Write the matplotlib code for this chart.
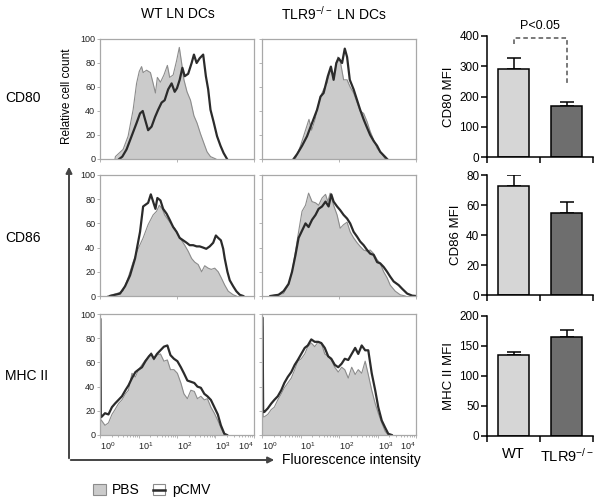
import matplotlib
matplotlib.use("Agg")
import matplotlib.pyplot as plt
import numpy as np
from matplotlib.patches import FancyArrowPatch, Rectangle
from matplotlib.lines import Line2D

plt.rcParams['font.family'] = ['Liberation Sans', 'DejaVu Sans']
plt.rcParams['mathtext.fontset'] = 'custom'
plt.rcParams['mathtext.rm'] = 'Liberation Sans'
plt.rcParams['mathtext.it'] = 'Liberation Sans:italic'

# ---- histogram data (x = log10 fluorescence, y = relative cell count) ----
cd80_wt_pbs_x = [0.39, 0.40, 0.60, 0.73, 0.86, 0.95, 1.02, 1.08, 1.12, 1.21, 1.31, 1.38, 1.44, 1.49, 1.57, 1.66,
                 1.75, 1.81, 1.90, 1.99, 2.06, 2.12, 2.18, 2.26, 2.35, 2.44, 2.52, 2.61, 2.70, 2.78, 2.87, 3.01]
cd80_wt_pbs_y = [0, 2, 8, 19, 41, 63, 73, 77, 72, 74, 72, 63, 55, 68, 64, 70,
                 78, 68, 70, 82, 93, 80, 66, 56, 49, 36, 30, 21, 13, 6, 2, 0]
cd80_wt_cmv_x = [0.50, 0.58, 0.69, 0.82, 0.95, 1.04, 1.11, 1.17, 1.25, 1.34, 1.43, 1.51, 1.60, 1.68, 1.77, 1.86, 1.94,
                 2.00, 2.07, 2.14, 2.20, 2.29, 2.38, 2.44, 2.51, 2.59, 2.68, 2.75, 2.81, 2.87, 2.95, 3.04, 3.13,
                 3.21, 3.30]
cd80_wt_cmv_y = [0, 2, 8, 19, 30, 38, 40, 33, 24, 27, 35, 41, 47, 49, 58, 63, 56,
                 59, 66, 76, 69, 71, 80, 87, 80, 84, 87, 69, 58, 41, 31, 19, 11,
                 5, 0]

cd80_ko_pbs_x = [0.87, 1.00, 1.13, 1.22, 1.29, 1.38, 1.43, 1.52, 1.60, 1.69, 1.77, 1.86, 1.97, 2.03, 2.12, 2.21,
                 2.29, 2.38, 2.47, 2.55, 2.64, 2.73, 2.81, 2.90, 2.99, 3.12, 3.20]
cd80_ko_pbs_y = [0, 11, 24, 33, 24, 33, 41, 52, 58, 63, 74, 69, 85, 82, 66, 66,
                 60, 55, 47, 40, 38, 31, 23, 16, 9, 4, 0]
cd80_ko_cmv_x = [0.82, 0.91, 1.04, 1.17, 1.30, 1.43, 1.52, 1.60, 1.71, 1.79, 1.86, 1.93, 1.99, 2.08, 2.15, 2.21,
                 2.28, 2.38, 2.47, 2.55, 2.64, 2.73, 2.81, 2.90, 2.99, 3.07, 3.16, 3.25]
cd80_ko_cmv_y = [0, 4, 11, 19, 30, 41, 52, 55, 69, 77, 66, 80, 84, 80, 92, 85,
                 66, 58, 49, 41, 33, 26, 20, 15, 11, 6, 3, 0]

cd86_wt_pbs_x = [0.20, 0.43, 0.60, 0.73, 0.86, 0.99, 1.12, 1.25, 1.38, 1.47, 1.54, 1.62, 1.68, 1.77, 1.86, 1.94, 2.03,
                 2.12, 2.20, 2.29, 2.38, 2.46, 2.55, 2.64, 2.72, 2.81, 2.89, 2.98, 3.07, 3.15, 3.24, 3.33,
                 3.46, 3.54]
cd86_wt_pbs_y = [0, 2, 4, 15, 28, 39, 48, 59, 67, 70, 75, 72, 67, 63, 59, 56, 50,
                 46, 42, 37, 31, 28, 26, 20, 25, 23, 22, 23, 20, 15, 9, 4,
                 1, 0]
cd86_wt_cmv_x = [0.26, 0.52, 0.65, 0.78, 0.91, 1.04, 1.12, 1.25, 1.32, 1.38, 1.44, 1.49, 1.57, 1.64, 1.73, 1.81,
                 1.90, 1.99, 2.07, 2.16, 2.25, 2.33, 2.42, 2.51, 2.59, 2.68, 2.76, 2.85, 2.94, 3.01, 3.07, 3.14,
                 3.20, 3.24, 3.31, 3.37, 3.46, 3.54, 3.63, 3.72]
cd86_wt_cmv_y = [0, 2, 8, 17, 31, 53, 74, 77, 84, 78, 72, 81, 79, 72, 68, 63,
                 57, 53, 48, 46, 44, 42, 42, 41, 41, 40, 39, 41, 44, 50, 48, 46,
                 39, 31, 20, 13, 8, 4, 1, 0]

cd86_ko_pbs_x = [0.20, 0.39, 0.56, 0.69, 0.78, 0.87, 0.95, 1.04, 1.13, 1.21, 1.30, 1.39, 1.47, 1.56, 1.65, 1.71, 1.77,
                 1.86, 1.95, 2.03, 2.12, 2.21, 2.29, 2.38, 2.47, 2.55, 2.64, 2.73, 2.81, 2.90, 2.99, 3.07,
                 3.16, 3.25, 3.33, 3.46, 3.59, 3.72]
cd86_ko_pbs_y = [0, 1, 2, 9, 20, 37, 53, 70, 75, 85, 78, 77, 75, 81, 84, 78, 85,
                 75, 67, 56, 59, 61, 53, 48, 44, 41, 38, 37, 38, 35, 30, 27,
                 20, 15, 9, 4, 1, 0]
cd86_ko_cmv_x = [0.22, 0.43, 0.56, 0.69, 0.78, 0.87, 0.95, 1.04, 1.13, 1.21, 1.30, 1.39, 1.47, 1.56, 1.65, 1.73,
                 1.80, 1.86, 1.95, 2.03, 2.12, 2.21, 2.29, 2.38, 2.47, 2.55, 2.64, 2.73, 2.81, 2.90, 2.99, 3.07,
                 3.16, 3.25, 3.33, 3.42, 3.55, 3.64, 3.77, 3.90, 4.00]
cd86_ko_cmv_y = [0, 1, 4, 10, 20, 34, 48, 54, 60, 57, 63, 67, 72, 74, 78, 74,
                 84, 78, 74, 71, 67, 64, 60, 53, 49, 45, 42, 38, 35, 34, 28, 27,
                 24, 20, 16, 12, 9, 6, 2, 0.3, 0]

mhc_wt_pbs_x = [0.00, 0.01, 0.02, 0.04, 0.13, 0.22, 0.31, 0.39, 0.48, 0.57, 0.66, 0.74, 0.83, 0.92, 1.00, 1.09, 1.18,
                1.27, 1.33, 1.40, 1.48, 1.57, 1.66, 1.75, 1.83, 1.92, 2.01, 2.10, 2.18, 2.27, 2.36, 2.45, 2.53,
                2.62, 2.71, 2.79, 2.88, 2.97, 3.06, 3.14, 3.23]
mhc_wt_pbs_y = [92, 92, 12, 12, 8, 10, 17, 21, 26, 29, 34, 37, 51, 48, 54, 58, 62,
                65, 68, 62, 66, 67, 61, 62, 54, 54, 51, 43, 34, 30, 37, 36, 30,
                32, 29, 30, 23, 18, 12, 6, 0]
mhc_wt_cmv_x = [0.00, 0.01, 0.02, 0.04, 0.13, 0.22, 0.31, 0.39, 0.48, 0.57, 0.66, 0.74, 0.83, 0.92, 1.00, 1.09, 1.18,
                1.27, 1.33, 1.40, 1.48, 1.57, 1.66, 1.75, 1.83, 1.92, 2.01, 2.10, 2.18, 2.27, 2.36, 2.45, 2.53,
                2.62, 2.71, 2.79, 2.88, 2.97, 3.06, 3.14, 3.23, 3.30]
mhc_wt_cmv_y = [96, 96, 15, 15, 18, 17, 23, 26, 29, 32, 37, 41, 47, 52, 54, 56, 61,
                65, 67, 63, 67, 70, 73, 74, 66, 63, 61, 56, 51, 45, 44, 43, 40,
                39, 34, 32, 29, 23, 17, 8, 1, 0]

mhc_ko_pbs_x = [0.00, 0.015, 0.03, 0.06, 0.15, 0.24, 0.32, 0.41, 0.50, 0.58, 0.67, 0.76, 0.85, 0.93, 1.02, 1.11, 1.19,
                1.28, 1.37, 1.46, 1.54, 1.63, 1.72, 1.80, 1.89, 1.98, 2.07, 2.15, 2.24, 2.33, 2.42, 2.50, 2.59,
                2.68, 2.76, 2.85, 2.94, 3.02, 3.11, 3.20, 3.28]
mhc_ko_pbs_y = [90, 90, 15, 15, 17, 21, 23, 29, 34, 39, 43, 47, 54, 61, 63, 67, 73,
                76, 73, 77, 76, 67, 65, 62, 56, 52, 56, 54, 47, 56, 50, 54, 51,
                61, 50, 37, 26, 18, 10, 3, 0]
mhc_ko_cmv_x = [0.00, 0.015, 0.03, 0.06, 0.15, 0.24, 0.32, 0.41, 0.50, 0.58, 0.67, 0.76, 0.85, 0.93, 1.02, 1.11, 1.19,
                1.28, 1.37, 1.46, 1.54, 1.63, 1.72, 1.80, 1.89, 1.98, 2.07, 2.15, 2.24, 2.33, 2.42, 2.50, 2.59,
                2.68, 2.76, 2.85, 2.94, 3.02, 3.11, 3.20, 3.28, 3.37]
mhc_ko_cmv_y = [97, 97, 19, 19, 22, 26, 29, 32, 37, 43, 48, 52, 58, 62, 67, 72, 74,
                79, 77, 77, 76, 72, 65, 63, 58, 56, 59, 63, 62, 67, 72, 67, 74,
                70, 70, 51, 37, 23, 12, 6, 1, 0]

# ---- bar data (MFI, mean + SEM) ----
groups = ['WT', 'TLR9$^{-/-}$']
cd80_mfi = [290, 168]
cd80_sem = [36, 15]
cd86_mfi = [73, 55]
cd86_sem = [7, 7]
mhc_mfi = [135, 165]
mhc_sem = [5, 11]

markers = ['CD80', 'CD86', 'MHC II']
columns = ['WT LN DCs', 'TLR9$^{-/-}$ LN DCs']

W, H = 601, 503
fig = plt.figure(figsize=(W / 100, H / 100), dpi=100)


def rect(x0, y0, x1, y1):
    return [x0 / W, 1 - y1 / H, (x1 - x0) / W, (y1 - y0) / H]


def fxy(x, y):
    return (x / W, 1 - y / H)


hist_cols = [(100, 254), (262, 416)]
hist_rows = [(39, 159), (175, 296), (314, 435)]
hist_data = [
    [(cd80_wt_pbs_x, cd80_wt_pbs_y, cd80_wt_cmv_x, cd80_wt_cmv_y),
     (cd80_ko_pbs_x, cd80_ko_pbs_y, cd80_ko_cmv_x, cd80_ko_cmv_y)],
    [(cd86_wt_pbs_x, cd86_wt_pbs_y, cd86_wt_cmv_x, cd86_wt_cmv_y),
     (cd86_ko_pbs_x, cd86_ko_pbs_y, cd86_ko_cmv_x, cd86_ko_cmv_y)],
    [(mhc_wt_pbs_x, mhc_wt_pbs_y, mhc_wt_cmv_x, mhc_wt_cmv_y),
     (mhc_ko_pbs_x, mhc_ko_pbs_y, mhc_ko_cmv_x, mhc_ko_cmv_y)],
]

fill_c = '#cbcbcb'
pbs_edge = '#8c8c8c'
cmv_c = '#2b2b2b'
frame_c = '#a8a8a8'

for r, (y0, y1) in enumerate(hist_rows):
    for c, (x0, x1) in enumerate(hist_cols):
        ax = fig.add_axes(rect(x0, y0, x1, y1))
        px, py, cx, cy = hist_data[r][c]
        px = 10 ** np.array(px)
        cx = 10 ** np.array(cx)
        ax.fill_between(px, py, color=fill_c, linewidth=0)
        ax.plot(px, py, color=pbs_edge, lw=0.8)
        ax.plot(cx, cy, color=cmv_c, lw=1.6)
        ax.set_xscale('log')
        ax.set_xlim(1, 1e4)
        ax.set_ylim(0, 100)
        ax.set_yticks([0, 20, 40, 60, 80, 100])
        for s in ax.spines.values():
            s.set_color(frame_c)
            s.set_linewidth(0.9)
        ax.tick_params(axis='both', which='both', color=frame_c, length=2, width=0.6, pad=1.5)
        ax.tick_params(axis='x', which='minor', length=1.5)
        if c == 0:
            ax.tick_params(axis='y', labelsize=6.5, labelcolor='#222222')
        else:
            ax.set_yticklabels([])
        if r == 2:
            ax.set_xticks([1, 10, 100, 1000, 10000])
            ax.tick_params(axis='x', labelsize=6.5, labelcolor='#222222', pad=2)
            fig.canvas.draw()
            labs = ax.get_xticklabels()
            for i, t in enumerate(labs):
                t.set_ha('right' if i == len(labs) - 1 else 'left')
        else:
            ax.tick_params(axis='x', which='both', labelbottom=False)

# ---- bar charts ----
bar_x = (487, 593)
bar_rows = [(36, 157), (175, 295), (316, 436)]
bar_vals = [(cd80_mfi, cd80_sem, 400, 100, 'CD80 MFI'),
            (cd86_mfi, cd86_sem, 80, 20, 'CD86 MFI'),
            (mhc_mfi, mhc_sem, 200, 50, 'MHC II MFI')]
bar_colors = ['#d6d6d6', '#6e6e6e']

for r, (y0, y1) in enumerate(bar_rows):
    vals, errs, ymax, step, lab = bar_vals[r]
    ax = fig.add_axes(rect(bar_x[0], y0, bar_x[1], y1))
    pos = np.arange(len(groups))
    ax.bar(pos, vals, width=0.57, color=bar_colors, edgecolor='black', linewidth=1.1, zorder=2)
    ax.errorbar(pos, vals, yerr=[[0, 0], errs], fmt='none', ecolor='black', elinewidth=1.1,
                capsize=5, capthick=1.1, zorder=1)
    ax.set_xlim(-0.5, 1.5)
    ax.set_ylim(0, ymax)
    ax.set_yticks(np.arange(0, ymax + 1, step))
    ax.set_xticks([-0.5, 0.5, 1.5])
    ax.set_xticklabels([])
    ax.spines['top'].set_visible(False)
    ax.spines['right'].set_visible(False)
    ax.spines['left'].set_linewidth(1.1)
    ax.spines['bottom'].set_linewidth(1.1)
    ax.tick_params(axis='both', length=4, width=1.1, labelsize=8.5, pad=1.5)
    ax.set_ylabel(lab, fontsize=9.5, labelpad=3)
    if r == 2:
        ax.set_xticks(pos, minor=True)
        ax.set_xticklabels(groups, minor=True, fontsize=10.5)
        ax.tick_params(axis='x', which='minor', length=0, pad=8)
    if r == 0:
        # significance bracket
        ax.plot([0, 0, 1, 1], [372, 395, 395, 245], ls=(0, (3, 2)), color='#555555', lw=1.1,
                clip_on=False)
        ax.text(0.5, 432, 'P<0.05', ha='center', va='center', fontsize=9)

# ---- labels ----
for lab, yc in zip(markers, [98, 238, 376]):
    fig.text(*fxy(5, yc), lab, ha='left', va='center', fontsize=10)
fig.text(*fxy(178, 14), columns[0], ha='center', va='center', fontsize=10)
fig.text(*fxy(334, 14), columns[1], ha='center', va='center', fontsize=10)
fig.text(*fxy(67, 96), 'Relative cell count', ha='center', va='center', rotation=90, fontsize=8.5)
fig.text(*fxy(282, 460), 'Fluorescence intensity', ha='left', va='center', fontsize=10)

# axes arrows
arrow_c = '#444444'
fig.add_artist(FancyArrowPatch(fxy(69, 461), fxy(69, 164), transform=fig.transFigure,
                               arrowstyle='-|>', mutation_scale=9, color=arrow_c, lw=1.4))
fig.add_artist(FancyArrowPatch(fxy(68, 460), fxy(277, 460), transform=fig.transFigure,
                               arrowstyle='-|>', mutation_scale=9, color=arrow_c, lw=1.4))

# legend
x0, y0 = fxy(93, 495)
fig.add_artist(Rectangle((x0, y0), 13 / W, 11 / H, transform=fig.transFigure,
                         facecolor=fill_c, edgecolor=pbs_edge, lw=0.8))
fig.text(*fxy(112, 490), 'PBS', ha='left', va='center', fontsize=10)
x0, y0 = fxy(153, 495)
fig.add_artist(Rectangle((x0, y0), 12 / W, 11 / H, transform=fig.transFigure,
                         facecolor='white', edgecolor=pbs_edge, lw=0.8))
fig.add_artist(Line2D([153 / W, 165 / W], [1 - 490 / H, 1 - 490 / H], transform=fig.transFigure,
                      color=cmv_c, lw=1.8))
fig.text(*fxy(172, 490), 'pCMV', ha='left', va='center', fontsize=10)

fig.savefig('out.png', dpi=100)
